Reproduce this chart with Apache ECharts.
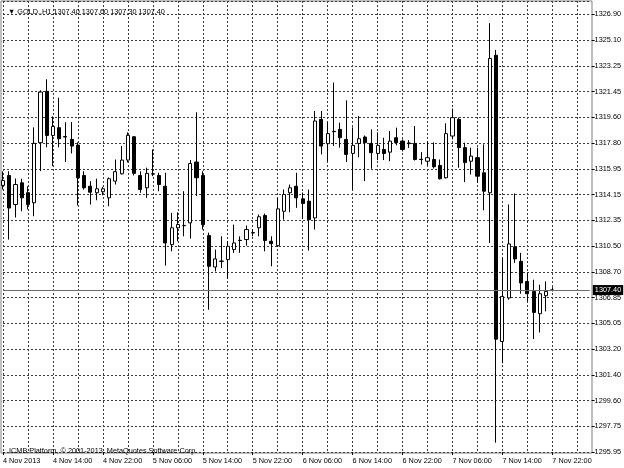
<!DOCTYPE html>
<html>
<head>
<meta charset="utf-8">
<style>html,body{margin:0;padding:0;background:#fff;}#c{width:624px;height:468px;}</style>
<script src="https://cdn.jsdelivr.net/npm/echarts@6/dist/echarts.min.js"></script>
</head>
<body>
<div id="c"></div>
<script>
// ---- data (GOLD., H1) ----
var startDay = 4, startHour = 6, totalSlots = 95;
var opens  = [1314.80,1315.50,1313.45,1314.98,1314.28,1313.57,1317.82,1321.45,1318.33,1318.88,1318.25,1318.05,1317.65,1315.50,1314.74,1314.28,1314.35,1313.92,1315.10,1315.62,1316.59,1318.24,1315.50,1314.63,1315.60,1315.50,1314.74,1310.61,1311.80,1311.95,1312.15,1316.45,1315.50,1311.25,1309.03,1309.43,1309.55,1310.26,1310.90,1310.97,1311.44,1311.80,1312.67,1310.85,1310.54,1312.97,1314.28,1314.74,1313.85,1313.68,1312.50,1319.47,1317.75,1318.62,1318.76,1318.05,1317.06,1317.77,1318.22,1317.77,1317.06,1317.34,1317.15,1318.17,1317.93,1317.80,1317.77,1316.65,1316.51,1316.63,1316.21,1315.34,1318.29,1319.47,1317.47,1316.51,1316.76,1315.69,1314.28,1324.00,1303.76,1306.84,1310.45,1309.43,1308.01,1307.30,1305.73,1307.00,1307.40];
var closes = [1315.15,1313.20,1314.86,1313.92,1313.45,1317.77,1321.40,1318.33,1318.97,1318.10,1318.22,1317.58,1315.34,1314.63,1314.32,1314.56,1314.56,1315.27,1315.77,1316.59,1318.34,1315.65,1314.51,1315.65,1315.62,1314.86,1310.73,1311.80,1312.03,1311.97,1316.35,1315.34,1312.03,1309.08,1309.60,1309.45,1310.49,1310.73,1310.92,1311.68,1311.46,1312.58,1310.90,1310.68,1313.14,1314.16,1314.63,1313.92,1313.52,1312.38,1319.35,1317.58,1318.46,1318.60,1318.17,1316.99,1317.63,1318.10,1317.82,1317.11,1317.63,1317.06,1317.93,1317.82,1317.34,1317.75,1316.63,1316.63,1316.76,1316.12,1315.27,1318.46,1319.59,1317.47,1316.41,1316.87,1315.45,1314.39,1323.77,1303.93,1306.95,1310.66,1309.60,1307.90,1307.14,1305.82,1307.14,1307.30,1307.40];
var lows   = [1314.51,1310.97,1312.53,1312.97,1313.10,1312.62,1315.81,1317.49,1316.16,1317.49,1316.45,1317.06,1313.38,1314.50,1313.45,1313.75,1314.10,1313.33,1314.86,1315.57,1316.42,1315.50,1314.28,1313.92,1315.45,1314.39,1309.13,1310.14,1310.85,1311.20,1311.04,1314.04,1311.68,1306.01,1308.72,1308.96,1308.20,1310.03,1310.03,1310.54,1311.20,1311.20,1310.14,1309.08,1310.45,1312.38,1312.90,1313.21,1312.43,1310.19,1311.68,1316.99,1316.51,1317.58,1317.47,1316.45,1314.51,1316.78,1315.10,1315.98,1316.59,1316.59,1316.51,1317.63,1317.20,1317.45,1316.56,1316.28,1316.21,1316.00,1315.22,1315.29,1318.05,1316.05,1315.03,1315.57,1314.98,1313.04,1310.73,1296.61,1302.23,1306.72,1309.32,1307.14,1306.60,1303.93,1304.40,1305.89,1307.30];
var highs  = [1315.79,1315.80,1315.29,1315.27,1314.74,1318.90,1321.52,1322.30,1319.68,1321.00,1319.26,1319.28,1317.84,1315.80,1315.10,1315.27,1314.70,1315.36,1316.63,1317.58,1318.55,1318.27,1315.79,1316.05,1317.34,1315.69,1315.69,1312.86,1312.90,1314.39,1316.59,1319.97,1315.80,1311.46,1310.26,1311.20,1310.85,1312.03,1311.20,1311.96,1311.70,1312.74,1312.81,1311.20,1313.92,1314.51,1314.86,1315.69,1314.30,1314.50,1320.06,1320.06,1319.26,1322.07,1319.23,1320.81,1318.90,1319.70,1318.33,1318.76,1318.55,1318.17,1318.64,1318.88,1318.05,1318.00,1318.99,1317.15,1317.93,1317.84,1316.63,1319.19,1320.23,1319.60,1317.82,1317.47,1317.47,1317.70,1326.27,1324.38,1309.67,1313.45,1314.23,1310.03,1308.61,1308.13,1307.78,1308.01,1307.60];
var yTickLabels = ['1295.95','1297.75','1299.60','1301.40','1303.20','1305.05','1306.85','1308.70','1310.50','1312.35','1314.15','1315.95','1317.80','1319.60','1321.45','1323.25','1325.10','1326.90'];
var xTickLabels = ['4 Nov 2013','4 Nov 14:00','4 Nov 22:00','5 Nov 06:00','5 Nov 14:00','5 Nov 22:00','6 Nov 06:00','6 Nov 14:00','6 Nov 22:00','7 Nov 06:00','7 Nov 14:00','7 Nov 22:00'];
var symbolName = 'GOLD.,H1';
var footerText = 'ICMB Platform, \u00a9 2001-2013, MetaQuotes Software Corp.';
var yMinLabel = 1295.95, yMaxLabel = 1326.90;

// ---- build ----
var categories = [];
for (var s = 0; s < totalSlots; s++) {
  var h = startHour + s;
  var d = startDay + Math.floor(h / 24);
  var hh = h % 24;
  categories.push(d + ' Nov ' + (hh < 10 ? '0' : '') + hh + ':00');
}
var candleData = opens.map(function (o, i) { return [o, closes[i], lows[i], highs[i]]; });
var last = opens.length - 1;
var currentPrice = closes[last];
var header = '\u25BC ' + symbolName + ' ' + opens[last].toFixed(2) + ' ' + highs[last].toFixed(2) + ' ' +
             lows[last].toFixed(2) + ' ' + closes[last].toFixed(2);

var FONT = 'Liberation Sans';
var gridTop = 1, gridBottomPx = 452;             // pixel rows of the price grid
var labelSteps = yTickLabels.length - 1;         // 17
var pxPerStep = (gridBottomPx - 14.25) / labelSteps;
var plotH = gridBottomPx - gridTop;
var unitsPerStep = (yMaxLabel - yMinLabel) / labelSteps;
var priceMax = yMinLabel + plotH / pxPerStep * unitsPerStep;
var stepMax = plotH / pxPerStep;

var chart = echarts.init(document.getElementById('c'), null, {renderer: 'canvas'});
chart.setOption({
  animation: false,
  backgroundColor: '#ffffff',
  textStyle: {fontFamily: FONT},
  title: [
    {text: header, left: 3, top: 3, textStyle: {fontSize: 7.3, fontWeight: 'normal', color: '#000', fontFamily: FONT}},
    {text: footerText, left: 4, top: 442, textStyle: {fontSize: 7.3, fontWeight: 'normal', color: '#000', fontFamily: FONT}}
  ],
  grid: [
    {left: 2.7, right: 624 - 590.2, top: gridTop, bottom: 468 - gridBottomPx, containLabel: false},
    {left: 1, right: 624 - 592, top: 1, bottom: 468 - 453, show: true, borderColor: '#808080', borderWidth: 1, backgroundColor: 'transparent'}
  ],
  xAxis: [
    {
      type: 'category', gridIndex: 0, data: categories, boundaryGap: false,
      axisLine: {show: false},
      axisTick: {show: true, interval: 7, length: 3, lineStyle: {color: '#000'}},
      axisLabel: {
        interval: 7, align: 'left', margin: 5, fontSize: 7.3, color: '#000', fontFamily: FONT,
        formatter: function (v, idx) { var k = Math.round(idx / 8); return xTickLabels[k] || ''; }
      },
      splitLine: {show: true, interval: 3, lineStyle: {color: '#3a3a3a', type: [2, 2], width: 1}}
    },
    {type: 'value', gridIndex: 1, show: false}
  ],
  yAxis: [
    {type: 'value', gridIndex: 0, min: yMinLabel, max: priceMax, show: false, splitLine: {show: false}},
    {
      type: 'value', gridIndex: 0, position: 'right', offset: 1.8, min: 0, max: stepMax, interval: 1,
      axisLine: {show: false},
      axisTick: {show: true, length: 3, lineStyle: {color: '#000'}},
      axisLabel: {
        margin: 3, fontSize: 7.3, color: '#000', fontFamily: FONT, showMaxLabel: false,
        formatter: function (v) { var k = Math.round(v); return Math.abs(v - k) < 1e-6 && yTickLabels[k] ? yTickLabels[k] : ''; }
      },
      splitLine: {show: true, lineStyle: {color: '#3a3a3a', type: [2, 2], width: 1}}
    },
    {type: 'value', gridIndex: 1, show: false}
  ],
  series: [{
    type: 'candlestick',
    xAxisIndex: 0, yAxisIndex: 0,
    data: candleData,
    barWidth: 3.6,
    clip: false,
    itemStyle: {color: '#ffffff', color0: '#000000', borderColor: '#000000', borderColor0: '#000000', borderWidth: 1},
    markLine: {
      silent: true, symbol: ['none', 'none'], animation: false,
      lineStyle: {color: '#6e6e6e', type: 'solid', width: 1},
      label: {
        show: true, position: 'end', distance: 3, formatter: function () { return currentPrice.toFixed(2); },
        backgroundColor: '#000', color: '#fff', fontSize: 7.3, fontFamily: FONT, padding: [2, 2, 1, 2]
      },
      data: [{yAxis: currentPrice}]
    }
  }]
});
</script>
</body>
</html>
